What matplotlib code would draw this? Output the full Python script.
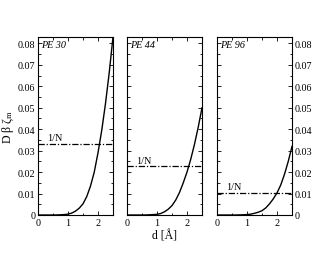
import numpy as np
import matplotlib
matplotlib.use('Agg')
import matplotlib.pyplot as plt
from matplotlib.ticker import MultipleLocator, FuncFormatter

plt.rcParams['font.family'] = 'Liberation Serif'
plt.rcParams['mathtext.fontset'] = 'stix'

# values
d = [0.0, 0.5, 0.625, 0.75, 0.875, 1.0, 1.125, 1.25, 1.375, 1.5, 1.625,
     1.75, 1.875, 2.0, 2.125, 2.25, 2.375, 2.5]
zeta_pe30 = [0, 0, 0.00002, 0.0001, 0.0002, 0.0004, 0.0009, 0.0018, 0.0032, 0.0052, 0.0086,
             0.0135, 0.020, 0.029, 0.0395, 0.052, 0.0665, 0.083]
zeta_pe44 = [0, 0, 0.00002, 0.0001, 0.0002, 0.0003, 0.0007, 0.0015, 0.0027, 0.0044, 0.0070,
             0.0105, 0.015, 0.020, 0.026, 0.033, 0.041, 0.050]
zeta_pe96 = [0, 0, 0.00001, 0.00005, 0.0001, 0.0002, 0.0004, 0.0008, 0.0013, 0.002, 0.0033,
             0.0052, 0.0075, 0.0103, 0.014, 0.019, 0.025, 0.032]
names = ['PE 30', 'PE 44', 'PE 96']
N = [30, 44, 96]
curves = [zeta_pe30, zeta_pe44, zeta_pe96]

fig = plt.figure(figsize=(3.3, 2.55), dpi=100)
lefts = [38, 127, 217]
fs = 7.3

def fmt(v, pos):
    if abs(v) < 1e-9:
        return '0'
    return '%.2f' % v

for i in range(3):
    ax = fig.add_axes([lefts[i] / 330, 1 - 216 / 255, 75 / 330, 178 / 255])
    ax.plot(d, curves[i], color='black', lw=1.0)
    ax.plot([0, 2.5], [1 / N[i], 1 / N[i]], color='black', lw=0.9, linestyle=(0, (5, 1.5, 1, 1.5)))
    ax.text(0.3, 1 / N[i] + 0.0015, '1/N', fontsize=fs)
    ax.text(0.1, 0.0795, names[i], fontsize=fs, style='italic', va='center')
    ax.set_xlim(0, 2.5)
    ax.set_ylim(0, 0.083)
    ax.xaxis.set_major_locator(MultipleLocator(1))
    ax.xaxis.set_minor_locator(MultipleLocator(0.5))
    ax.yaxis.set_major_locator(MultipleLocator(0.01))
    ax.yaxis.set_minor_locator(MultipleLocator(0.005))
    ax.yaxis.set_major_formatter(FuncFormatter(fmt))
    ax.tick_params(which='both', direction='in', top=True, right=True, labelsize=fs, pad=2)
    ax.tick_params(which='major', length=3, width=0.6)
    ax.tick_params(which='minor', length=1.8, width=0.6)
    for s in ax.spines.values():
        s.set_linewidth(0.8)
    if i == 0:
        ax.set_ylabel(r'D β ζ$_\mathrm{m}$', fontsize=8.5, labelpad=1)
    elif i == 1:
        ax.tick_params(labelleft=False)
        ax.set_xlabel('d [Å]', fontsize=8.5, labelpad=2)
    else:
        ax.tick_params(labelleft=False, labelright=True)

fig.savefig('out.png', dpi=100)
